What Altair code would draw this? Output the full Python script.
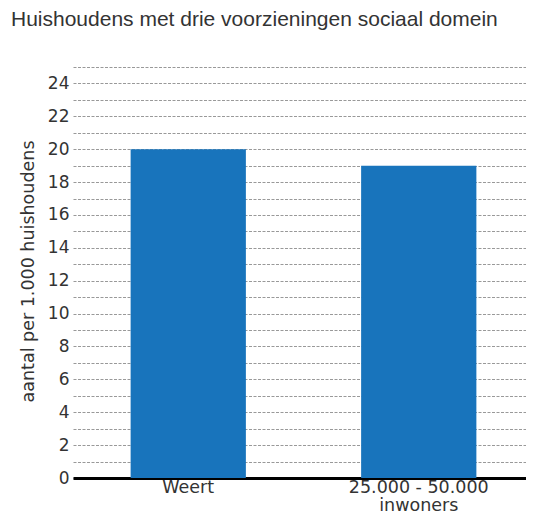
import altair as alt
import pandas as pd

categories = ["Weert", "25.000 - 50.000\ninwoners"]
values = [20, 19]

df = pd.DataFrame({"categorie": categories, "aantal": values})

title = alt.TitleParams(
    text="Huishoudens met drie voorzieningen sociaal domein",
    anchor="start",
    frame="group",
    font="Liberation Sans",
    fontSize=21,
    fontWeight="normal",
    color="#333333",
    baseline="alphabetic",
    dx=-62,
    offset=20,
)

chart = (
    alt.Chart(df, title=title)
    .mark_bar(color="#1874bc")
    .encode(
        x=alt.X(
            "categorie:N",
            sort=None,
            scale=alt.Scale(paddingInner=0.5, paddingOuter=0.25, range=[0, 461]),
            axis=alt.Axis(
                title=None,
                labelAngle=0,
                labelExpr="split(datum.label, '\\n')",
                labelFont="DejaVu Sans",
                labelFontSize=17.5,
                labelColor="#333333",
                labelLineHeight=18.5,
                labelPadding=0,
                ticks=False,
                grid=False,
                domain=True,
                domainColor="#000000",
                domainWidth=3,
            ),
        ),
        y=alt.Y(
            "aantal:Q",
            scale=alt.Scale(domain=[0, 25], nice=False),
            axis=alt.Axis(
                title="aantal per 1.000 huishoudens",
                titleFont="DejaVu Sans",
                titleFontSize=17.5,
                titleFontWeight="normal",
                titleColor="#333333",
                titleX=-40,
                titleY=204,
                titleBaseline="alphabetic",
                titleAngle=-90,
                titleAlign="center",
                values=list(range(0, 26)),
                labelExpr="datum.value % 2 == 0 && datum.value < 25 ? datum.label : ''",
                labelFont="DejaVu Sans",
                labelFontSize=17,
                labelColor="#333333",
                labelPadding=4,
                ticks=False,
                domain=False,
                grid=True,
                gridColor="#999999",
                gridDash=[3, 1.5],
                gridWidth=1,
            ),
        ),
    )
    .properties(
        width=453,
        height=411,
        autosize=alt.AutoSizeParams(type="none"),
        padding={"left": 65, "top": 59, "right": 0, "bottom": 36},
    )
    .configure_view(stroke=None)
)

chart.save("out.html", embed_options={"renderer": "svg", "actions": False})
